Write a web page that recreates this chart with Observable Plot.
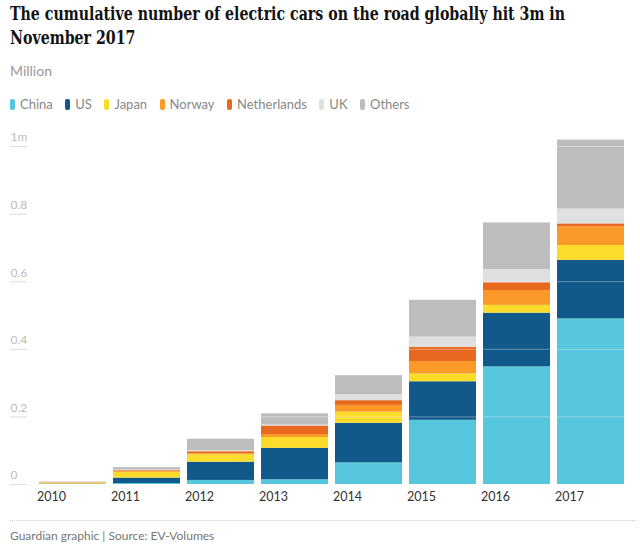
<!DOCTYPE html>
<html>
<head>
<meta charset="utf-8">
<script src="https://cdn.jsdelivr.net/npm/d3@7"></script>
<script src="https://cdn.jsdelivr.net/npm/@observablehq/plot@0.6"></script>
<style>
  html, body { margin: 0; padding: 0; background: #fff; }
  body { width: 640px; height: 556px; position: relative; font-family: Lato, "Open Sans", sans-serif; overflow: hidden; }
  #title { position: absolute; left: 10px; top: 2px; font-family: "DejaVu Serif", serif; font-weight: bold; font-size: 18px; line-height: 24px; color: #121212; white-space: nowrap; transform-origin: 0 0; }
  #unit { position: absolute; left: 10px; top: 62px; font-size: 14px; color: #999; }
  #legend { position: absolute; left: 10px; top: 96px; font-size: 13px; color: #888; white-space: nowrap; }
  #legend span.item { display: inline-flex; align-items: center; margin-right: 12.5px; }
  #legend span.sw { display: inline-block; width: 5px; height: 11px; border-radius: 2px; margin-right: 5px; }
  #chart { position: absolute; left: 0; top: 125px; }
  #rule { position: absolute; left: 10px; top: 520px; width: 625px; border-top: 1px dotted #c8c8c8; }
  #source { position: absolute; left: 10px; top: 528px; font-size: 12px; color: #767676; }
</style>
</head>
<body>
<div id="title"><span id="t1">The cumulative number of electric cars on the road globally hit 3m in</span><br><span id="t2">November 2017</span></div>
<div id="unit">Million</div>
<div id="legend"></div>
<div id="chart"></div>
<div id="rule"></div>
<div id="source">Guardian graphic | Source: EV-Volumes</div>
<script>
const years = ["2010", "2011", "2012", "2013", "2014", "2015", "2016", "2017"];
const series = ["China", "US", "Japan", "Norway", "Netherlands", "UK", "Others"];
const colors = ["#56c6dc", "#10598a", "#fbdc2b", "#fb9a28", "#e8681f", "#dfdfdf", "#bdbdbd"];

// segment values (million) per series, per year
const china       = [0.0005, 0.003, 0.012, 0.014, 0.064, 0.190, 0.348, 0.490];
const us          = [0.001,  0.016, 0.054, 0.093, 0.117, 0.114, 0.159, 0.173];
const japan       = [0.002,  0.017, 0.022, 0.032, 0.033, 0.023, 0.023, 0.044];
const norway      = [0.002,  0.003, 0.003, 0.009, 0.020, 0.037, 0.044, 0.055];
const netherlands = [0.0,    0.002, 0.006, 0.025, 0.014, 0.042, 0.023, 0.009];
const uk          = [0.0005, 0.002, 0.003, 0.003, 0.018, 0.030, 0.039, 0.044];
const others      = [0.001,  0.007, 0.034, 0.033, 0.056, 0.109, 0.138, 0.204];

const yTicks = [0, 0.2, 0.4, 0.6, 0.8, 1];
const yTickLabels = ["0", "0.2", "0.4", "0.6", "0.8", "1m"];

const valuesBySeries = [china, us, japan, norway, netherlands, uk, others];
const data = series.flatMap((s, i) => years.map((y, j) => ({year: y, series: s, value: valuesBySeries[i][j]})));

// fit title line 1 to the reference width (~555px) with a horizontal condense
(function fitTitle() {
  const t1 = document.getElementById("t1");
  const w = t1.getBoundingClientRect().width;
  const k = Math.min(1, 555 / w);
  document.getElementById("title").style.transform = "scaleX(" + k + ")";
})();

// legend
const legend = document.getElementById("legend");
series.forEach((s, i) => {
  const item = document.createElement("span");
  item.className = "item";
  const sw = document.createElement("span");
  sw.className = "sw";
  sw.style.background = colors[i];
  item.appendChild(sw);
  item.appendChild(document.createTextNode(s));
  legend.appendChild(item);
});

const chart = Plot.plot({
  width: 640,
  height: 385,
  marginTop: 21,
  marginBottom: 26,
  marginLeft: 37,
  marginRight: 15,
  style: {fontFamily: "Lato, 'Open Sans', sans-serif", background: "transparent"},
  x: {domain: years, paddingInner: 0.1, paddingOuter: 0, axis: null},
  y: {domain: [0, 1], axis: null},
  color: {domain: series, range: colors},
  marks: [
    Plot.barY(data, {x: "year", y: "value", fill: "series", order: series}),
    Plot.ruleY(yTicks.slice(1), {stroke: "#ffffff", strokeOpacity: 0.35}),
    Plot.ruleY(yTicks, {dx: -27, insetRight: 571, stroke: "#dcdcdc"}),
    Plot.text(yTicks, {y: d => d, text: (d, i) => yTickLabels[i], frameAnchor: "left", dx: -27, dy: -9, textAnchor: "start", fill: "#bdbdbd", fontSize: 12}),
    Plot.axisX({tickSize: 0, tickPadding: 8, textAnchor: "start", dx: -36, fontSize: 12.5, color: "#333", label: null})
  ]
});
document.getElementById("chart").appendChild(chart);
</script>
</body>
</html>
